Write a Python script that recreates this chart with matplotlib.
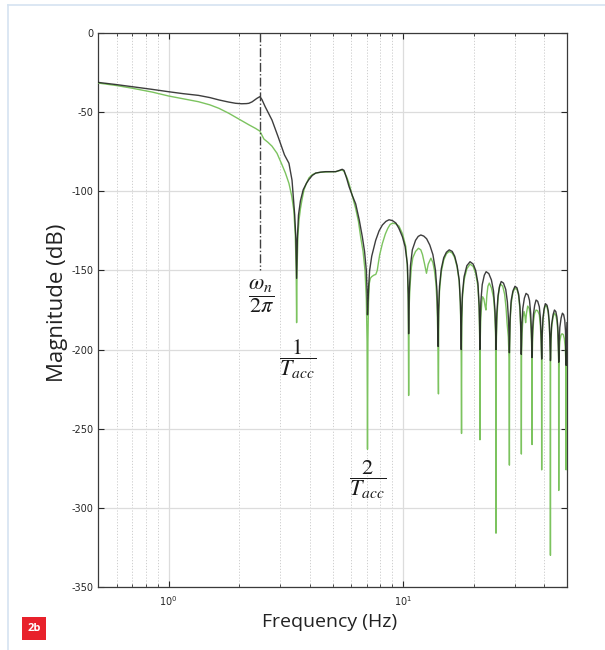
import matplotlib.pyplot as plt
from matplotlib.patches import Rectangle
from matplotlib.lines import Line2D

plt.rcParams['axes.unicode_minus'] = False

# ---- data (frequency in Hz, magnitude in dB) ----
freq_black = [0.5, 0.6, 0.7, 0.85, 1.0, 1.15, 1.34, 1.5, 1.64, 1.8, 1.93, 2.05, 2.15, 2.2, 2.27, 2.31,
              2.38, 2.45, 2.5, 2.58, 2.76, 2.93, 3.12, 3.26, 3.36, 3.45, 3.49,
              3.515, 3.54, 3.58, 3.65, 3.75, 3.87, 3.97, 4.1, 4.24, 4.45, 4.67, 4.9, 5.16, 5.35,
              5.5, 5.6, 5.75, 5.88, 6.05, 6.28, 6.5, 6.7, 6.85, 6.97, 7.03,
              7.05, 7.13, 7.2, 7.35, 7.64, 7.9, 8.16, 8.45, 8.71, 9.0, 9.31, 9.6, 9.93, 10.2, 10.43, 10.52,
              10.56, 10.62, 10.75, 10.95, 11.3, 11.6, 11.9, 12.25, 12.6, 13.0, 13.4, 13.75, 13.95, 14.05,
              14.1, 14.17, 14.3, 14.55, 14.9, 15.3, 15.73, 16.2, 16.6, 17.0, 17.35, 17.55, 17.65,
              17.7, 17.76, 17.9, 18.2, 18.7, 19.3, 19.9, 20.4, 20.85, 21.1, 21.2,
              21.25, 21.32, 21.45, 21.75, 22.2, 22.6, 23.2, 23.8, 24.3, 24.65, 24.82,
              24.9, 24.97, 25.1, 25.4, 25.8, 26.2, 26.8, 27.4, 27.85, 28.15, 28.32,
              28.4, 28.47, 28.6, 28.9, 29.4, 30.0, 30.6, 31.1, 31.5, 31.72, 31.85,
              31.9, 31.97, 32.1, 32.4, 32.9, 33.45, 34.1, 34.6, 35.0, 35.25, 35.4,
              35.45, 35.52, 35.65, 35.95, 36.4, 36.9, 37.5, 38.1, 38.5, 38.78, 38.93,
              39.0, 39.07, 39.2, 39.5, 39.95, 40.45, 41.1, 41.6, 42.0, 42.28, 42.43,
              42.5, 42.57, 42.7, 43.0, 43.6, 44.2, 44.8, 45.3, 45.7, 45.9, 46.04,
              46.1, 46.17, 46.3, 46.6, 47.2, 47.8, 48.4, 48.9, 49.25, 49.45, 49.55,
              49.6, 49.67, 49.8, 50.0]
mag_black = [-31.2, -32.6, -33.9, -35.6, -37.1, -38.3, -39.4, -40.8, -42.3, -43.6, -44.4, -44.7, -44.6, -44.4, -43.5, -42.7,
             -41.3, -40.2, -42.0, -46.5, -55, -65.5, -77, -82.3, -93, -115, -130,
             -155, -130, -115, -106, -99, -95, -92.5, -90, -88.5, -87.9, -87.6, -87.6, -87.6, -86.8,
             -86.1, -86.8, -92, -97, -102, -108, -118, -128.7, -138, -150, -165,
             -178, -160, -150, -141, -131, -125, -121.3, -119, -118, -118.5, -120, -123.5, -128.7, -135, -146, -165,
             -190, -165, -147, -137, -131, -128.5, -127.6, -128.3, -130, -134, -140, -150, -163, -180,
             -198, -175, -160, -149, -142, -138.5, -137, -138, -141, -147, -156, -170, -185,
             -200, -180, -165, -154, -147, -144.5, -146, -150, -158, -172, -185,
             -200, -185, -170, -159, -153, -150.8, -152, -156, -163, -175, -188,
             -200, -192, -177, -166, -160, -157, -158, -162, -170, -181, -192,
             -202, -195, -180, -169, -163, -160, -161, -165, -173, -184, -195,
             -203, -198, -184, -174, -167.5, -164.5, -165.5, -169, -177, -188, -198,
             -205, -200, -188, -178, -172, -168.7, -169.5, -173, -180, -191, -200,
             -206, -202, -190, -180, -174, -171, -172, -175.5, -182.5, -193, -202,
             -207, -205, -193, -184, -178, -175, -176, -179.5, -186, -195, -203,
             -208, -206, -195, -186, -180, -177, -178, -181.5, -188, -197, -204,
             -210, -200, -190, -183]

freq_green = [0.5, 0.6, 0.7, 0.85, 1.0, 1.15, 1.34, 1.5, 1.64, 1.8, 1.99, 2.2, 2.35, 2.45, 2.5, 2.55,
              2.65, 2.76, 2.9, 3.04, 3.15, 3.26, 3.35, 3.42, 3.47, 3.5,
              3.515, 3.53, 3.56, 3.6, 3.65, 3.72, 3.78, 3.87, 3.97, 4.1, 4.24, 4.45, 4.67, 4.9, 5.16,
              5.35, 5.5, 5.6, 5.75, 5.88, 6.05, 6.28, 6.45, 6.59, 6.75, 6.88, 6.97, 7.02,
              7.05, 7.08, 7.12, 7.18, 7.25, 7.34, 7.5, 7.65, 7.76, 7.85, 7.95, 8.16, 8.4, 8.6, 8.8, 9.0,
              9.3, 9.6, 9.95, 10.27, 10.43, 10.52,
              10.56, 10.6, 10.7, 10.85, 11.0, 11.3, 11.63, 11.9, 12.1, 12.35, 12.58, 12.8, 13.14, 13.4,
              13.6, 13.8, 13.95, 14.08,
              14.15, 14.2, 14.3, 14.55, 14.9, 15.3, 15.73, 16.2, 16.6, 17.0, 17.35, 17.55, 17.68,
              17.75, 17.8, 17.9, 18.2, 18.7, 19.3, 19.9, 20.4, 20.85, 21.1, 21.22,
              21.27, 21.32, 21.45, 21.65, 21.83, 22.1, 22.4, 22.56, 22.75, 23.0, 23.31, 23.8, 24.3, 24.6, 24.8,
              24.9, 24.95, 25.1, 25.4, 25.7, 26.0, 26.6, 27.1, 27.5, 27.75, 27.91, 28.1, 28.3,
              28.4, 28.47, 28.6, 28.9, 29.4, 30.0, 30.6, 31.1, 31.5, 31.72, 31.87,
              31.94, 32.0, 32.15, 32.45, 32.8, 33.1, 33.3, 33.6, 34.0, 34.5, 34.9, 35.2, 35.4,
              35.48, 35.55, 35.7, 36.0, 36.4, 36.9, 37.5, 38.1, 38.5, 38.78, 38.93,
              38.99, 39.05, 39.2, 39.5, 39.95, 40.45, 41.1, 41.6, 42.0, 42.28, 42.43,
              42.49, 42.56, 42.7, 43.0, 43.6, 44.2, 44.8, 45.3, 45.7, 45.9, 46.05,
              46.1, 46.17, 46.3, 46.6, 47.1, 47.6, 48.2, 48.7, 49.1, 49.35, 49.52,
              49.58, 49.65, 49.8, 50.0]
mag_green = [-31.6, -33.2, -34.9, -37.3, -39.8, -41.5, -43.4, -45.4, -47.6, -50.6, -54.3, -58, -60.3, -62, -64.5, -67,
             -69, -71.5, -76, -83, -88.5, -95, -103, -112, -128, -150,
             -183, -150, -128, -118, -111, -104, -99, -95, -91.5, -89.5, -88.5, -88, -87.8, -87.7, -87.6,
             -87, -86.5, -87.5, -91, -95, -102, -111, -119, -128.7, -138, -150, -168, -195,
             -263, -195, -170, -158, -155, -154, -153, -152.5, -150, -145, -140, -133, -127, -123.5, -121, -120.2,
             -120.5, -122, -127, -135, -148, -170,
             -229, -175, -160, -148, -142, -138, -136, -137, -140, -146, -151.8, -146, -142.3, -145,
             -150, -158, -170, -195,
             -228, -178, -163, -151, -143.5, -139.5, -138, -139, -142, -148, -157, -172, -195,
             -253, -185, -168, -156, -149, -146, -147.5, -152, -160, -174, -195,
             -257, -195, -180, -170, -166.6, -168, -173, -175, -166, -160, -158, -161, -167, -177, -192,
             -316, -200, -182, -168, -161, -158.5, -160, -165, -174, -183, -187, -192, -205,
             -273, -200, -183, -171, -164, -161, -162, -166, -175, -186, -200,
             -266, -205, -190, -180, -176, -179, -183, -177, -172.5, -174, -180, -190, -202,
             -260, -205, -192, -182, -177, -175, -175.5, -178, -185, -195, -205,
             -276, -205, -192, -181, -175, -172, -173, -177, -184, -195, -205,
             -330, -208, -196, -186, -179.5, -177, -178.5, -182, -189, -197, -207,
             -289, -212, -202, -195, -191, -190, -190.5, -193, -198, -205, -215,
             -276, -215, -205, -200]

wn_freq = 2.45          # omega_n / 2pi marker
wn_line_bottom = -150
y_ticks = [0, -50, -100, -150, -200, -250, -300, -350]

# ---- figure ----
fig = plt.figure(figsize=(6.05, 6.5), dpi=100)

# light blue page border (top + left)
fig.add_artist(Line2D([8/605, 1.0], [1-5/650, 1-5/650], transform=fig.transFigure,
                      color='#d5e3f1', lw=1.2))
fig.add_artist(Line2D([8/605, 8/605], [0.0, 1-5/650], transform=fig.transFigure,
                      color='#d5e3f1', lw=1.2))

ax = fig.add_axes([98/605, 1-587/650, 469/605, 554/650])
ax.plot(freq_green, mag_green, color='#7cc35f', lw=1.0, zorder=3)
ax.plot(freq_black, mag_black, color='#1c1c1c', lw=1.0, alpha=0.85, zorder=4)
ax.plot([wn_freq, wn_freq], [0, wn_line_bottom], color='#404040', lw=1.0, ls='-.', zorder=5)

ax.set_xscale('log')
ax.set_xlim(0.5, 50)
ax.set_ylim(-350, 0)
ax.set_yticks(y_ticks)
ax.set_axisbelow(True)
ax.grid(which='major', color='#dcdcdc', lw=0.9, ls='-')
ax.grid(which='minor', axis='x', color='#c8c8c8', lw=0.6, ls=(0, (1.5, 2)))
ax.tick_params(which='both', direction='in', top=True, right=True,
               labelsize=7, colors='#262626')
ax.tick_params(which='major', length=4, width=0.8)
ax.tick_params(which='minor', length=2.5, width=0.6)
ax.tick_params(axis='y', pad=3)
ax.tick_params(axis='x', pad=5)
for s in ax.spines.values():
    s.set_color('#3a3a3a')
    s.set_linewidth(0.9)

# annotations
kw = dict(ha='center', va='center', fontsize=16, math_fontfamily='stix', color='#1a1a1a')
ax.text(2.47, -166, r'$\dfrac{\omega_n}{2\pi}$', **kw)
ax.text(3.55, -206, r'$\dfrac{1}{T_{acc}}$', **kw)
ax.text(7.05, -282, r'$\dfrac{2}{T_{acc}}$', **kw)

# axis labels
fig.text(57/605, 1-303/650, 'Magnitude (dB)', rotation=90, ha='center', va='center',
         fontsize=16, family='Open Sans', color='#222222')
fig.text(330/605, 1-622/650, 'Frequency (Hz)', ha='center', va='center',
         fontsize=14, family='Open Sans', color='#222222')

# "2b" tag
fig.add_artist(Rectangle((22/605, 1-640/650), 24/605, 23/650, transform=fig.transFigure,
                         facecolor='#e8212b', edgecolor='none'))
fig.text(34/605, 1-628.5/650, '2b', ha='center', va='center', fontsize=8,
         color='white', fontweight='bold', family='Open Sans')

fig.savefig('out.png', dpi=100)
